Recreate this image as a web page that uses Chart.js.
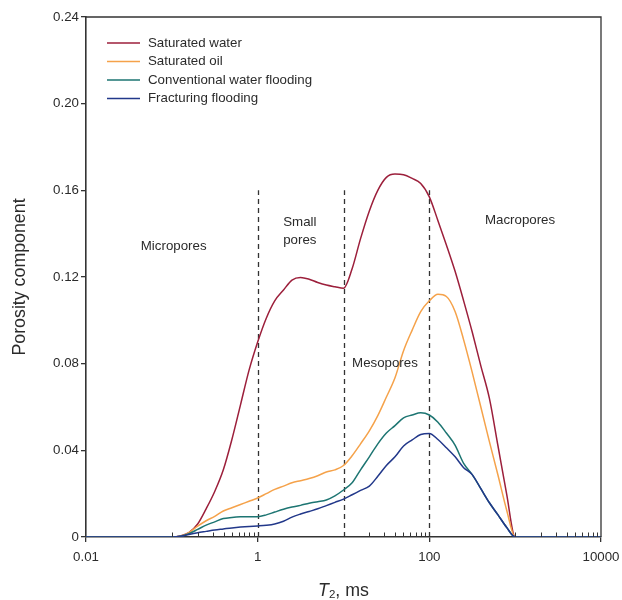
<!DOCTYPE html>
<html>
<head>
<meta charset="utf-8">
<script src="https://cdn.jsdelivr.net/npm/chart.js@4.4.1/dist/chart.umd.min.js"></script>
<style>
  html, body { margin: 0; padding: 0; background: #fff; }
  #chart { display: block; }
</style>
</head>
<body>
<canvas id="chart" width="622" height="600"></canvas>
<script>
const T2_VALUES = [0.01, 0.1, 0.126, 0.158, 0.2, 0.251, 0.316, 0.398, 0.501, 0.631, 0.794,
    1, 1.26, 1.58, 2, 2.51, 3.16, 3.98, 5.01, 6.31, 7.94,
    10, 12.6, 15.8, 20, 25.1, 31.6, 39.8, 50.1, 63.1, 79.4,
    100, 126, 158, 200, 251, 316, 398, 501, 631, 794, 1000, 10000];

const SATURATED_WATER = [0, 0, 0.0005, 0.002, 0.006, 0.013, 0.021, 0.031, 0.045, 0.061, 0.077,
    0.090, 0.101, 0.109, 0.114, 0.1186, 0.1198, 0.119, 0.1175, 0.1163, 0.1155,
    0.1148, 0.1238, 0.1377, 0.1505, 0.160, 0.166, 0.1675, 0.1672, 0.1655, 0.1632,
    0.157, 0.146, 0.1348, 0.1225, 0.109, 0.0946, 0.079, 0.064, 0.042, 0.020, 0, 0];

const SATURATED_OIL = [0, 0, 0.0003, 0.002, 0.005, 0.0075, 0.0095, 0.012, 0.0135, 0.015, 0.0165,
    0.018, 0.020, 0.022, 0.0235, 0.025, 0.026, 0.027, 0.0283, 0.030, 0.031,
    0.033, 0.0375, 0.043, 0.049, 0.056, 0.0646, 0.0735, 0.086, 0.0955, 0.104,
    0.109, 0.112, 0.111, 0.104, 0.091, 0.076, 0.060, 0.044, 0.0285, 0.0126, 0, 0];

const CONVENTIONAL_FLOODING = [0, 0, 0.0003, 0.0015, 0.0035, 0.0055, 0.007, 0.0085, 0.009, 0.0093, 0.0094,
    0.0094, 0.0102, 0.0115, 0.0128, 0.0138, 0.0146, 0.0156, 0.0163, 0.0171, 0.019,
    0.0217, 0.025, 0.031, 0.037, 0.043, 0.048, 0.0514, 0.055, 0.0563, 0.0573,
    0.0563, 0.053, 0.048, 0.0423, 0.034, 0.0288, 0.0223, 0.0158, 0.0102, 0.0045, 0, 0];

const FRACTURING_FLOODING = [0, 0, 0.0003, 0.0012, 0.002, 0.0026, 0.0032, 0.0037, 0.0042, 0.0046, 0.0049,
    0.0051, 0.0054, 0.006, 0.0073, 0.0092, 0.0106, 0.0118, 0.013, 0.0145, 0.016,
    0.0175, 0.0195, 0.0215, 0.0235, 0.028, 0.033, 0.037, 0.042, 0.0448, 0.0473,
    0.0478, 0.045, 0.0412, 0.037, 0.032, 0.0288, 0.0223, 0.0158, 0.0102, 0.0045, 0, 0];

const SERIES_NAMES = ['Saturated water', 'Saturated oil', 'Conventional water flooding', 'Fracturing flooding'];
const SERIES_COLORS = ['#9c1f3b', '#f5a24a', '#1d7572', '#22388a'];

const X_LABELED_TICKS = [0.01, 1, 100, 10000];
const X_MINOR_DECADES = [0.1, 10, 1000];
const Y_TICKS = [0, 0.04, 0.08, 0.12, 0.16, 0.20, 0.24];

const BOUNDARIES = [1, 10, 100];
const BOUNDARY_TOP = 0.16;

const REGION_LABELS = [
    { lines: ['Micropores'], x: 0.105, y: 0.134 },
    { lines: ['Small', 'pores'], x: 3.1, y: 0.141 },
    { lines: ['Mesopores'], x: 30.4, y: 0.0803 },
    { lines: ['Macropores'], x: 1140, y: 0.1463 }
];

const FONT = '"Liberation Sans", Arial, sans-serif';
const AXIS_COLOR = '#333333';
const TEXT_COLOR = '#2b2b2b';

function toPoints(values) {
    return T2_VALUES.map((t, i) => ({ x: t, y: values[i] }));
}

const allSeries = [SATURATED_WATER, SATURATED_OIL, CONVENTIONAL_FLOODING, FRACTURING_FLOODING];

const datasets = allSeries.map((values, i) => ({
    label: SERIES_NAMES[i],
    data: toPoints(values),
    borderColor: SERIES_COLORS[i],
    backgroundColor: SERIES_COLORS[i],
    borderWidth: 1.5,
    pointRadius: 0,
    cubicInterpolationMode: 'monotone',
    order: allSeries.length - i
}));

// dashed pore boundaries, region names, minor ticks and frame
const decorPlugin = {
    id: 'decor',
    beforeDatasetsDraw(chart) {
        const { ctx, scales: { x, y } } = chart;
        ctx.save();
        ctx.strokeStyle = AXIS_COLOR;
        ctx.lineWidth = 1.3;
        ctx.setLineDash([5, 4]);
        BOUNDARIES.forEach(t => {
            const px = Math.round(x.getPixelForValue(t)) + 0.5;
            ctx.beginPath();
            ctx.moveTo(px, y.getPixelForValue(0));
            ctx.lineTo(px, y.getPixelForValue(BOUNDARY_TOP));
            ctx.stroke();
        });
        ctx.restore();
    },
    afterDraw(chart) {
        const { ctx, chartArea: area, scales: { x, y } } = chart;
        ctx.save();

        // frame top and right
        ctx.strokeStyle = AXIS_COLOR;
        ctx.lineWidth = 1.3;
        ctx.beginPath();
        ctx.moveTo(area.left, area.top);
        ctx.lineTo(area.right, area.top);
        ctx.lineTo(area.right, area.bottom);
        ctx.stroke();

        // minor ticks pointing up into the plot
        ctx.lineWidth = 1;
        X_MINOR_DECADES.forEach(base => {
            for (let n = 1; n <= 9; n++) {
                const px = Math.round(x.getPixelForValue(base * n)) + 0.5;
                ctx.beginPath();
                ctx.moveTo(px, area.bottom);
                ctx.lineTo(px, area.bottom - 4.5);
                ctx.stroke();
            }
        });

        // region labels
        ctx.fillStyle = TEXT_COLOR;
        ctx.font = '13.3px ' + FONT;
        ctx.textAlign = 'center';
        ctx.textBaseline = 'middle';
        REGION_LABELS.forEach(lbl => {
            const cx = x.getPixelForValue(lbl.x);
            const cy = y.getPixelForValue(lbl.y);
            const lineH = 17.5;
            const startY = cy - (lbl.lines.length - 1) * lineH / 2;
            lbl.lines.forEach((line, i) => ctx.fillText(line, cx, startY + i * lineH));
        });

        // legend
        ctx.textAlign = 'left';
        ctx.lineWidth = 1.5;
        SERIES_NAMES.forEach((name, i) => {
            const ly = area.top + 26 + i * 18.5;
            ctx.strokeStyle = SERIES_COLORS[i];
            ctx.beginPath();
            ctx.moveTo(area.left + 21, ly);
            ctx.lineTo(area.left + 54, ly);
            ctx.stroke();
            ctx.fillText(name, area.left + 62, ly);
        });

        // y axis title
        ctx.font = '17.8px ' + FONT;
        ctx.save();
        ctx.translate(20, (area.top + area.bottom) / 2);
        ctx.rotate(-Math.PI / 2);
        ctx.textAlign = 'center';
        ctx.fillText('Porosity component', 0, 0);
        ctx.restore();

        // x axis title: italic T with subscript 2
        const parts = [
            { text: 'T', font: 'italic 17.8px ' + FONT, dy: 0 },
            { text: '2', font: '11.5px ' + FONT, dy: 4 },
            { text: ', ms', font: '17.8px ' + FONT, dy: 0 }
        ];
        let total = 0;
        parts.forEach(p => { ctx.font = p.font; p.w = ctx.measureText(p.text).width; total += p.w; });
        let tx = (area.left + area.right) / 2 - total / 2;
        const ty = 591;
        ctx.textAlign = 'left';
        parts.forEach(p => {
            ctx.font = p.font;
            ctx.fillText(p.text, tx, ty + p.dy);
            tx += p.w;
        });

        ctx.restore();
    }
};

new Chart(document.getElementById('chart'), {
    type: 'line',
    data: { datasets: datasets },
    options: {
        responsive: false,
        animation: false,
        layout: { padding: { top: 17, right: 21, left: 0, bottom: 0 } },
        plugins: {
            legend: { display: false },
            tooltip: { enabled: false }
        },
        scales: {
            x: {
                type: 'logarithmic',
                min: 0.01,
                max: 10000,
                afterBuildTicks: scale => {
                    scale.ticks = X_LABELED_TICKS.map(v => ({ value: v }));
                },
                afterFit: scale => {
                    scale.height = 63;
                    scale.paddingLeft = 0;
                    scale.paddingRight = 0;
                },
                ticks: {
                    autoSkip: false,
                    maxRotation: 0,
                    padding: 7,
                    color: TEXT_COLOR,
                    font: { family: FONT, size: 13.3 },
                    callback: value => String(value)
                },
                grid: { drawOnChartArea: false, tickLength: 5, color: AXIS_COLOR, lineWidth: 1.3 },
                border: { display: true, color: AXIS_COLOR, width: 1.6 }
            },
            y: {
                min: 0,
                max: 0.24,
                afterBuildTicks: scale => {
                    scale.ticks = Y_TICKS.map(v => ({ value: v }));
                },
                afterFit: scale => {
                    scale.width = 86;
                    scale.paddingTop = 0;
                    scale.paddingBottom = 0;
                },
                ticks: {
                    padding: 2,
                    color: TEXT_COLOR,
                    font: { family: FONT, size: 13.3 },
                    callback: value => value === 0 ? '0' : value.toFixed(2)
                },
                grid: { drawOnChartArea: false, tickLength: 5, color: AXIS_COLOR, lineWidth: 1.3 },
                border: { display: true, color: AXIS_COLOR, width: 1.6 }
            }
        }
    },
    plugins: [decorPlugin]
});
</script>
</body>
</html>
